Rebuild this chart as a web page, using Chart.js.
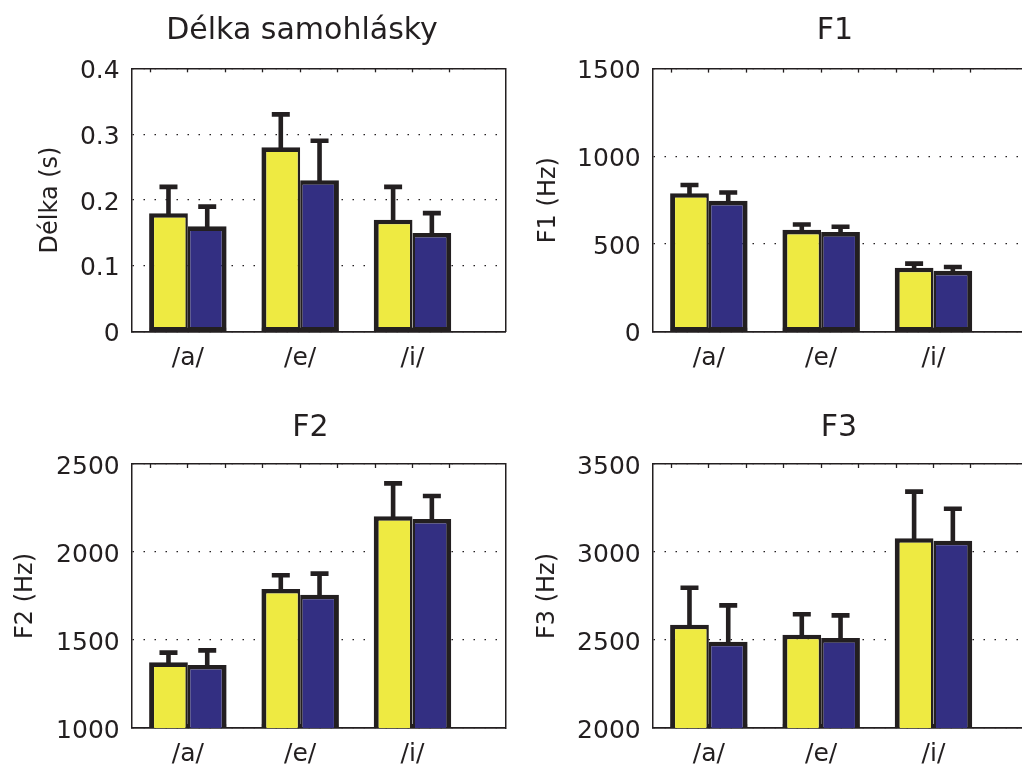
<!DOCTYPE html>
<html>
<head>
<meta charset="utf-8">
<script src="https://cdn.jsdelivr.net/npm/chart.js@4.4.1/dist/chart.umd.min.js"></script>
<style>
  html, body { margin: 0; padding: 0; background: #ffffff; overflow: hidden; width: 1022px; height: 769px; }
  canvas { position: absolute; }
</style>
</head>
<body>
<canvas id="c1" width="511" height="384" style="left:0px;top:0px"></canvas>
<canvas id="c2" width="530" height="384" style="left:511px;top:0px"></canvas>
<canvas id="c3" width="511" height="385" style="left:0px;top:384px"></canvas>
<canvas id="c4" width="530" height="385" style="left:511px;top:384px"></canvas>
<script>
// ---------------- data ----------------
const categories = ['/a/', '/e/', '/i/'];

const delkaYellow   = [0.18, 0.28, 0.17];
const delkaYellowSD = [0.04, 0.05, 0.05];
const delkaBlue     = [0.16, 0.23, 0.15];
const delkaBlueSD   = [0.03, 0.06, 0.03];
const delkaTicks    = [0, 0.1, 0.2, 0.3, 0.4];

const f1Yellow   = [790, 581, 365];
const f1YellowSD = [46, 30, 23];
const f1Blue     = [746, 568, 347];
const f1BlueSD   = [48, 30, 22];
const f1Ticks    = [0, 500, 1000, 1500];

const f2Yellow   = [1373, 1790, 2203];
const f2YellowSD = [55, 78, 187];
const f2Blue     = [1358, 1757, 2188];
const f2BlueSD   = [83, 120, 130];
const f2Ticks    = [1000, 1500, 2000, 2500];

const f3Yellow   = [2587, 2530, 3078];
const f3YellowSD = [210, 116, 265];
const f3Blue     = [2490, 2511, 3064];
const f3BlueSD   = [207, 129, 182];
const f3Ticks    = [2000, 2500, 3000, 3500];

// ---------------- style ----------------
const INK = '#231F20';
const YELLOW = '#EEEA42';
const BLUE = '#332F82';
const FONT = 'DejaVu Sans';
const TICK_SIZE = 25;
const X_MIN = 0.5, X_MAX = 3.83;

const measureCtx = document.createElement('canvas').getContext('2d');
function widestLabel(labels) {
  measureCtx.font = TICK_SIZE + 'px ' + FONT;
  return Math.max.apply(null, labels.map(l => measureCtx.measureText(l).width));
}

const errorBars = {
  id: 'errorBars',
  afterDatasetsDraw(chart) {
    const ctx = chart.ctx;
    const ys = chart.scales.y;
    chart.data.datasets.forEach((ds, di) => {
      const meta = chart.getDatasetMeta(di);
      meta.data.forEach((bar, i) => {
        const v = ds.data[i].y;
        const base = ys.getPixelForValue(v);
        const top = ys.getPixelForValue(v + ds.sd[i]);
        ctx.save();
        ctx.strokeStyle = INK;
        ctx.lineWidth = 4.6;
        ctx.lineCap = 'butt';
        ctx.beginPath();
        ctx.moveTo(bar.x, base + 1);
        ctx.lineTo(bar.x, top);
        ctx.moveTo(bar.x - 9, top);
        ctx.lineTo(bar.x + 9, top);
        ctx.stroke();
        ctx.restore();
      });
    });
  }
};

function minorTicks(s) {
  const t = [];
  for (let k = 1; k <= 8; k++) t.push({ value: X_MIN + k / 3 });
  s.ticks = t;
}

function makeChart(id, o) {
  const toPts = arr => arr.map((v, i) => ({ x: i + 1, y: v }));
  const barStyle = { borderColor: INK, borderSkipped: false,
                     categoryPercentage: 0.69, barPercentage: 1.0,
                     xAxisID: 'x', yAxisID: 'y' };
  const tickLabelPad = -12 - widestLabel(o.yTicks.map(String));
  return new Chart(document.getElementById(id), {
    type: 'bar',
    data: {
      datasets: [
        Object.assign({ label: 'yellow', data: toPts(o.yellow), sd: o.yellowSD, backgroundColor: YELLOW,
                        borderWidth: { top: 4.6, left: 5, bottom: 4, right: 2.5 } }, barStyle),
        Object.assign({ label: 'blue', data: toPts(o.blue), sd: o.blueSD, backgroundColor: BLUE,
                        borderWidth: { top: 4.6, left: 2.5, bottom: 4, right: 5 } }, barStyle)
      ]
    },
    options: {
      responsive: false,
      animation: false,
      devicePixelRatio: 1,
      layout: { padding: { left: o.padL, right: o.padR, top: 0, bottom: o.padB } },
      plugins: {
        legend: { display: false },
        tooltip: { enabled: false },
        title: {
          display: true, text: o.title, color: INK,
          font: { family: FONT, size: 30, weight: 'normal', lineHeight: 1.2 },
          padding: { top: o.titleTop, bottom: o.titleBottom }
        }
      },
      scales: {
        x: {
          type: 'linear', position: 'bottom', min: X_MIN, max: X_MAX, offset: false,
          afterBuildTicks: s => { s.ticks = categories.map((c, i) => ({ value: i + 1 })); },
          ticks: {
            callback: v => categories[Math.round(v) - 1] || '',
            color: INK, font: { family: FONT, size: TICK_SIZE }, padding: 11.5,
            maxRotation: 0, autoSkip: false
          },
          grid: { display: true, drawOnChartArea: false, drawTicks: false, offset: false },
          border: { display: true, color: INK, width: 1.8 },
          afterFit: s => { s.height = 40; }
        },
        xb: {
          type: 'linear', position: 'bottom', weight: -1, min: X_MIN, max: X_MAX, offset: false,
          afterBuildTicks: minorTicks,
          ticks: { display: false },
          grid: { display: true, drawOnChartArea: false, drawTicks: true, tickLength: -4, tickColor: INK, tickWidth: 1.3 },
          border: { display: false },
          afterFit: s => { s.height = 0; }
        },
        xt: {
          type: 'linear', position: 'top', min: X_MIN, max: X_MAX, offset: false,
          afterBuildTicks: minorTicks,
          ticks: { display: false },
          grid: { display: true, drawOnChartArea: false, drawTicks: true, tickLength: -4, tickColor: INK, tickWidth: 1.3 },
          border: { display: true, color: INK, width: 1.5 },
          afterFit: s => { s.height = 0; }
        },
        y: {
          type: 'linear', position: 'left', min: o.yTicks[0], max: o.yTicks[o.yTicks.length - 1],
          afterBuildTicks: s => { s.ticks = o.yTicks.map(v => ({ value: v })); },
          ticks: {
            callback: v => String(v), color: INK, font: { family: FONT, size: TICK_SIZE },
            mirror: true, crossAlign: 'far', padding: tickLabelPad, labelOffset: 3
          },
          grid: { display: true, drawOnChartArea: true, drawTicks: false, color: INK, lineWidth: 1.2 },
          border: { display: true, color: INK, width: 1.5, dash: [1.5, 9.5] },
          title: {
            display: true, text: o.yTitle, color: INK,
            font: { family: FONT, size: 24, weight: 'normal', lineHeight: 1.2 },
            padding: { top: o.yTitlePad, bottom: 0 }
          },
          afterFit: s => { s.width = o.yWidth; }
        },
        yr: {
          type: 'linear', position: 'right', min: 0, max: 1,
          ticks: { display: false },
          grid: { display: false },
          border: { display: true, color: INK, width: 1.5 },
          afterFit: s => { s.width = 0; }
        }
      }
    },
    plugins: [errorBars]
  });
}

makeChart('c1', {
  title: 'Délka samohlásky', yTitle: 'Délka (s)', yTicks: delkaTicks,
  yellow: delkaYellow, yellowSD: delkaYellowSD, blue: delkaBlue, blueSD: delkaBlueSD,
  padL: 98.3, padR: 5.3, padB: 12.3, yWidth: 33.4, yTitlePad: -61.7,
  titleTop: 13.3, titleBottom: 19
});
makeChart('c2', {
  title: 'F1', yTitle: 'F1 (Hz)', yTicks: f1Ticks,
  yellow: f1Yellow, yellowSD: f1YellowSD, blue: f1Blue, blueSD: f1BlueSD,
  padL: 132.3, padR: 14.3, padB: 12.3, yWidth: 9.4, yTitlePad: -109.2,
  titleTop: 13.3, titleBottom: 19.3
});
makeChart('c3', {
  title: 'F2', yTitle: 'F2 (Hz)', yTicks: f2Ticks,
  yellow: f2Yellow, yellowSD: f2YellowSD, blue: f2Blue, blueSD: f2BlueSD,
  padL: 115.3, padR: 5.3, padB: 1, yWidth: 16.4, yTitlePad: -103.7,
  titleTop: 26.6, titleBottom: 17.4
});
makeChart('c4', {
  title: 'F3', yTitle: 'F3 (Hz)', yTicks: f3Ticks,
  yellow: f3Yellow, yellowSD: f3YellowSD, blue: f3Blue, blueSD: f3BlueSD,
  padL: 140.3, padR: 14.3, padB: 1, yWidth: 1.4, yTitlePad: -118.2,
  titleTop: 26.6, titleBottom: 17.4
});
</script>
</body>
</html>
